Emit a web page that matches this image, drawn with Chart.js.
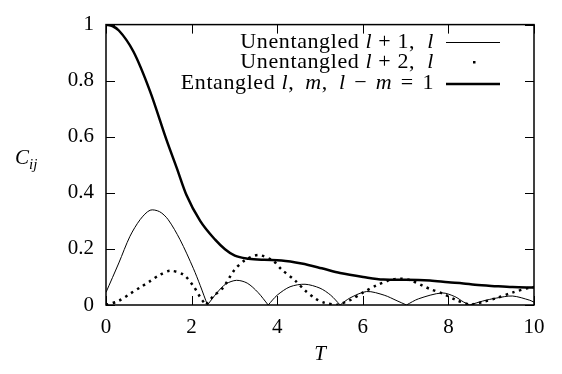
<!DOCTYPE html>
<html>
<head>
<meta charset="utf-8">
<script src="https://cdn.jsdelivr.net/npm/chart.js@4.4.1/dist/chart.umd.min.js"></script>
<style>
	body { margin: 0; background: #fff; }
	#wrap { width: 562px; height: 374px; }
</style>
</head>
<body>
<div id="wrap"><canvas id="chart" width="562" height="374"></canvas></div>
<script>
// T on the x axis, C_ij on the y axis
let timesNear = [0, 0.3, 0.56, 0.8, 1.03, 1.25, 1.45, 1.73, 2.04, 2.2, 2.37, 2.6, 2.8, 3.05, 3.3, 3.55, 3.79, 4.0, 4.3, 4.65, 5.0, 5.25, 5.47, 5.7, 6.09, 6.5, 6.8, 7.02, 7.3, 7.85, 8.15, 8.35, 8.5, 8.8, 9.13, 9.5, 9.9, 10];
let valuesNear = [0.045, 0.15, 0.245, 0.305, 0.338, 0.333, 0.305, 0.233, 0.131, 0.07, 0, 0.045, 0.075, 0.088, 0.078, 0.045, 0, 0.035, 0.065, 0.074, 0.06, 0.035, 0, 0.025, 0.048, 0.035, 0.015, 0, 0.022, 0.043, 0.03, 0.011, 0, 0.014, 0.025, 0.032, 0.017, 0.01];

let timesFar = [0, 0.3, 0.56, 0.8, 1.03, 1.25, 1.5, 1.81, 2.04, 2.2, 2.33, 2.5, 2.74, 3.0, 3.25, 3.56, 3.9, 4.1, 4.42, 4.65, 4.9, 5.1, 5.4, 5.7, 6.01, 6.32, 6.64, 6.87, 7.1, 7.41, 7.57, 7.88, 8.19, 8.52, 8.81, 9.13, 9.51, 9.9, 10];
let valuesFar = [0, 0.015, 0.04, 0.063, 0.085, 0.107, 0.122, 0.108, 0.068, 0.028, 0, 0.03, 0.063, 0.125, 0.16, 0.178, 0.158, 0.127, 0.087, 0.052, 0.022, 0.008, 0, 0.017, 0.045, 0.07, 0.089, 0.094, 0.089, 0.068, 0.057, 0.04, 0.017, 0, 0.011, 0.025, 0.045, 0.062, 0.064];

let timesEnt = [0, 0.15, 0.3, 0.64, 1.03, 1.42, 1.65, 1.88, 2.2, 2.55, 2.78, 3.01, 3.33, 3.7, 4.1, 4.57, 5.04, 5.47, 6.01, 6.48, 7.0, 7.57, 8.0, 8.35, 8.62, 9.13, 9.5, 10];
let valuesEnt = [1.0, 0.995, 0.979, 0.904, 0.762, 0.586, 0.49, 0.392, 0.30, 0.233, 0.199, 0.176, 0.165, 0.161, 0.159, 0.148, 0.131, 0.114, 0.10, 0.091, 0.09, 0.087, 0.081, 0.077, 0.072, 0.067, 0.064, 0.062];

let xTicks = [0, 2, 4, 6, 8, 10];
let yTicks = [0, 0.2, 0.4, 0.6, 0.8, 1];

let serif = "'Liberation Serif', 'Times New Roman', serif";

function makePoints(times, values) {
	let points = [];
	for (let i = 0; i < times.length; i++) {
		points.push({ x: times[i], y: values[i] });
		// inner zeros get a second copy so the spline keeps its sharp corner there
		if (values[i] === 0 && i > 0 && i < times.length - 1) {
			points.push({ x: times[i], y: values[i] });
		}
	}
	return points;
}

// draws text made of roman and italic pieces, right aligned on rightX
function drawRich(ctx, parts, rightX, y, size) {
	let total = 0;
	parts.forEach(p => {
		ctx.font = (p[1] ? 'italic ' : '') + size + 'px ' + serif;
		total += ctx.measureText(p[0]).width;
	});
	let x = rightX - total;
	parts.forEach(p => {
		ctx.font = (p[1] ? 'italic ' : '') + size + 'px ' + serif;
		ctx.fillText(p[0], x, y);
		x += ctx.measureText(p[0]).width;
	});
}

let decorPlugin = {
	id: 'decor',
	afterDraw(chart) {
		let ctx = chart.ctx;
		let area = chart.chartArea;
		let xs = chart.scales.x;
		let ys = chart.scales.y;
		let tick = 9;
		ctx.save();
		ctx.strokeStyle = '#000';
		ctx.fillStyle = '#000';

		ctx.lineWidth = 1;
		ctx.beginPath();
		xTicks.forEach(v => {
			let px = Math.round(xs.getPixelForValue(v)) + 0.5;
			ctx.moveTo(px, area.bottom); ctx.lineTo(px, area.bottom - tick);
			ctx.moveTo(px, area.top); ctx.lineTo(px, area.top + tick);
		});
		yTicks.forEach(v => {
			let py = Math.round(ys.getPixelForValue(v)) + 0.5;
			ctx.moveTo(area.left, py); ctx.lineTo(area.left + tick, py);
			ctx.moveTo(area.right, py); ctx.lineTo(area.right - tick, py);
		});
		ctx.stroke();

		ctx.lineWidth = 1.5;
		ctx.strokeRect(area.left, area.top, area.right - area.left, area.bottom - area.top);

		// legend
		ctx.textBaseline = 'middle';
		ctx.letterSpacing = '0.6px';
		let textRight = 434;
		let sampleLeft = 446;
		let sampleRight = 500;
		let size = 22;
		drawRich(ctx, [['Unentangled ', false], ['l', true], [' + 1,  ', false], ['l', true]], textRight, 42, size);
		ctx.lineWidth = 1;
		ctx.beginPath(); ctx.moveTo(sampleLeft, 42.5); ctx.lineTo(sampleRight, 42.5); ctx.stroke();

		drawRich(ctx, [['Unentangled ', false], ['l', true], [' + 2,  ', false], ['l', true]], textRight, 62, size);
		ctx.fillRect(473, 61, 2.5, 2.5);

		drawRich(ctx, [['Entangled ', false], ['l', true], [',\u2009 ', false], ['m', true], [',\u2009 ', false], ['l', true], ['\u200a \u2212 \u200a', false], ['m', true], ['\u200a = \u200a1', false]], textRight, 83, size);
		ctx.lineWidth = 2.5;
		ctx.beginPath(); ctx.moveTo(sampleLeft, 84); ctx.lineTo(sampleRight, 84); ctx.stroke();
		ctx.letterSpacing = '0px';

		// axis titles
		ctx.textAlign = 'left';
		ctx.textBaseline = 'alphabetic';
		ctx.font = 'italic 21px ' + serif;
		ctx.fillText('C', 15, 164);
		ctx.font = 'italic 15px ' + serif;
		ctx.fillText('ij', 29, 169);
		ctx.font = 'italic 21px ' + serif;
		ctx.textAlign = 'center';
		ctx.fillText('T', 320, 360);
		ctx.restore();
	}
};

new Chart(document.getElementById('chart'), {
	type: 'line',
	data: {
		datasets: [{
			label: 'Unentangled l+1,l',
			data: makePoints(timesNear, valuesNear),
			borderColor: '#000',
			borderWidth: 1,
			tension: 0.3,
			pointRadius: 0
		}, {
			label: 'Unentangled l+2,l',
			data: makePoints(timesFar, valuesFar),
			borderColor: '#000',
			borderWidth: 2.5,
			borderDash: [2.5, 4.5],
			tension: 0.3,
			pointRadius: 0
		}, {
			label: 'Entangled l,m,l-m=1',
			data: makePoints(timesEnt, valuesEnt),
			borderColor: '#000',
			borderWidth: 2.5,
			cubicInterpolationMode: 'monotone',
			pointRadius: 0
		}]
	},
	options: {
		responsive: false,
		animation: false,
		layout: { padding: { top: 12, right: 28, left: 0, bottom: 0 } },
		plugins: {
			legend: { display: false },
			tooltip: { enabled: false }
		},
		scales: {
			x: {
				type: 'linear',
				min: 0,
				max: 10,
				grid: { display: false, drawTicks: false },
				border: { display: false },
				afterFit: function (scale) { scale.height = 69; },
				afterBuildTicks: function (scale) { scale.ticks = xTicks.map(v => ({ value: v })); },
				ticks: { color: '#000', padding: 10, font: { family: serif, size: 21 }, callback: v => String(v) }
			},
			y: {
				min: 0,
				max: 1,
				grid: { display: false, drawTicks: false },
				border: { display: false },
				afterFit: function (scale) { scale.width = 106; },
				afterBuildTicks: function (scale) { scale.ticks = yTicks.map(v => ({ value: v })); },
				ticks: { color: '#000', padding: 12, font: { family: serif, size: 21 }, callback: v => String(v) }
			}
		}
	},
	plugins: [decorPlugin]
});
</script>
</body>
</html>
